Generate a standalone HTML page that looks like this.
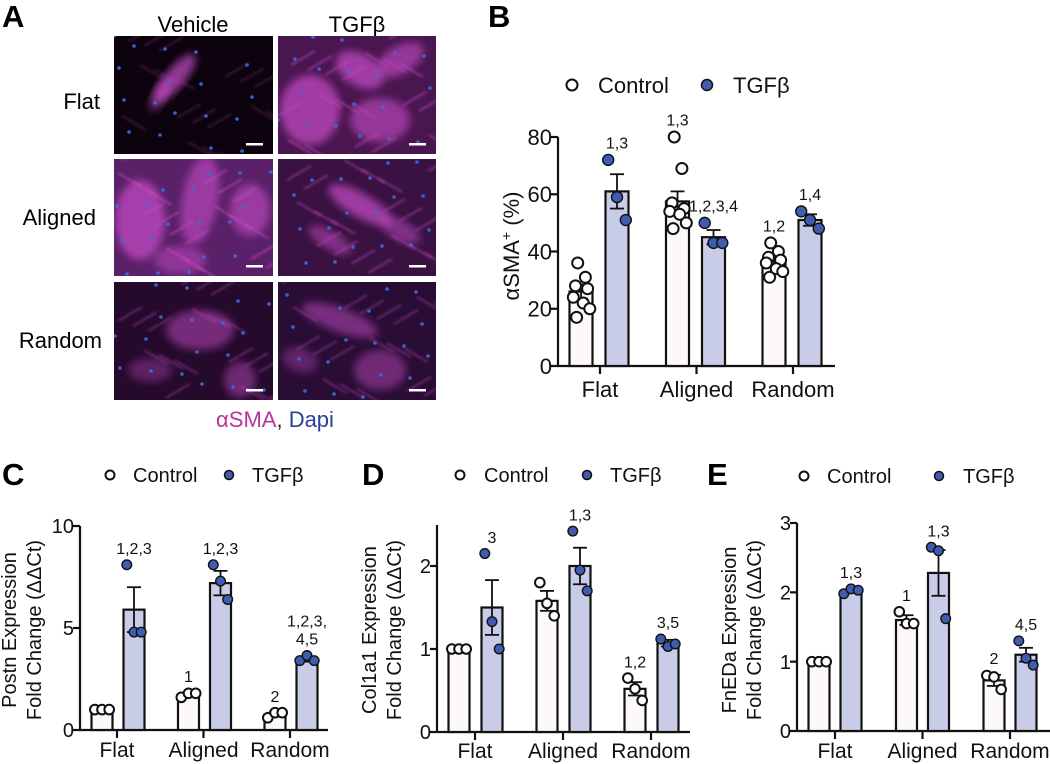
<!DOCTYPE html>
<html><head><meta charset="utf-8">
<style>
html,body{margin:0;padding:0;background:#fff;}
svg{display:block;font-family:"Liberation Sans",Arial,sans-serif;}
</style></head>
<body>
<svg id="fig" width="1050" height="764" viewBox="0 0 1050 764">
<defs>
<filter id="blur" x="-20%" y="-20%" width="140%" height="140%"><feGaussianBlur stdDeviation="4"/></filter>
<filter id="blur2"><feGaussianBlur stdDeviation="1.2"/></filter>
<clipPath id="c1"><rect x="114" y="36" width="159" height="118"/></clipPath>
<clipPath id="c2"><rect x="278" y="36" width="158" height="118"/></clipPath>
<clipPath id="c3"><rect x="114" y="159" width="159" height="117"/></clipPath>
<clipPath id="c4"><rect x="278" y="159" width="158" height="117"/></clipPath>
<clipPath id="c5"><rect x="114" y="282" width="159" height="118"/></clipPath>
<clipPath id="c6"><rect x="278" y="282" width="158" height="118"/></clipPath>
</defs>
<g>
<text x="2" y="27" font-size="31" font-weight="bold">A</text>
<text x="193" y="32" font-size="22" text-anchor="middle">Vehicle</text>
<text x="357" y="32" font-size="22" text-anchor="middle">TGFβ</text>
<text x="100" y="109" font-size="22" text-anchor="end">Flat</text>
<text x="96" y="225" font-size="22" text-anchor="end">Aligned</text>
<text x="102" y="348" font-size="22" text-anchor="end">Random</text>
<g id="micro"></g>
<text x="275" y="427" font-size="22" text-anchor="middle"><tspan fill="#b8359e">αSMA</tspan><tspan fill="#222">, </tspan><tspan fill="#2a3f9a">Dapi</tspan></text>
</g>
<g id="charts"></g>
</svg>
<script>
// ---------- Panel B data ----------
const catsB = ["Flat","Aligned","Random"];
const ctrlMeanB = [26, 57.5, 37];
const ctrlErrB = [2.5, 3.5, 1.5];
const ctrlPtsB = [[36,31,28,27,24,22,20,17],[80,69,57,55,54,53,50,48],[43,40,38,37,36,34,33,31]];
const tgfMeanB = [61, 45, 51];
const tgfErrB = [6, 2.5, 2];
const tgfPtsB = [[72,59,51],[50,43,43],[54,51,48]];
const ctrlAnnB = ["", "1,3", "1,2"];
const tgfAnnB = ["1,3", "1,2,3,4", "1,4"];
const ticksB = [0,20,40,60,80];
// ---------- Panel C data ----------
const catsC = ["Flat","Aligned","Random"];
const ctrlMeanC = [1, 1.75, 0.75];
const ctrlErrC = [0, 0.08, 0.1];
const ctrlPtsC = [[1,1,1],[1.6,1.8,1.8],[0.6,0.85,0.85]];
const tgfMeanC = [5.9, 7.2, 3.45];
const tgfErrC = [1.1, 0.6, 0.1];
const tgfPtsC = [[8.1,4.8,4.8],[8.1,7.3,6.4],[3.4,3.65,3.4]];
const ctrlAnnC = ["", "1", "2"];
const tgfAnnC = ["1,2,3", "1,2,3", "1,2,3,|4,5"];
const ticksC = [0,5,10];
// ---------- Panel D data ----------
const catsD = ["Flat","Aligned","Random"];
const ctrlMeanD = [1, 1.58, 0.52];
const ctrlErrD = [0, 0.12, 0.08];
const ctrlPtsD = [[1,1,1],[1.8,1.55,1.4],[0.65,0.52,0.38]];
const tgfMeanD = [1.5, 2.0, 1.07];
const tgfErrD = [0.33, 0.22, 0.04];
const tgfPtsD = [[2.15,1.33,1.0],[2.42,1.95,1.7],[1.12,1.03,1.06]];
const ctrlAnnD = ["", "", "1,2"];
const tgfAnnD = ["3", "1,3", "3,5"];
const ticksD = [0,1,2];
// ---------- Panel E data ----------
const catsE = ["Flat","Aligned","Random"];
const ctrlMeanE = [1, 1.6, 0.73];
const ctrlErrE = [0, 0.07, 0.08];
const ctrlPtsE = [[1,1,1],[1.72,1.55,1.55],[0.8,0.78,0.6]];
const tgfMeanE = [2.02, 2.28, 1.1];
const tgfErrE = [0.02, 0.33, 0.1];
const tgfPtsE = [[1.98,2.05,2.03],[2.65,2.6,1.62],[1.3,1.05,0.95]];
const ctrlAnnE = ["", "1", "2"];
const tgfAnnE = ["1,3", "1,3", "4,5"];
const ticksE = [0,1,2,3];

const NS = "http://www.w3.org/2000/svg";
function mk(tag, attrs, parent){
  const e = document.createElementNS(NS, tag);
  for (const k in attrs) e.setAttribute(k, attrs[k]);
  if (parent) parent.appendChild(e);
  return e;
}
const CTRL_FILL = "#fdf9f9", TGF_FILL = "#c9cce7", DOT = "#3f5cb0";

// micrographs
(function(){
  const g = document.getElementById('micro');
  const panels = [
    {x:114,y:36,w:159,h:118,base:"#0d030e",clip:"c1",blobs:[[175,78,30,10,-50,0.7],[160,95,18,7,-60,0.5]],s:0.35},
    {x:278,y:36,w:158,h:118,base:"#4a1650",clip:"c2",blobs:[[310,110,30,35,0,0.7],[360,70,26,16,30,0.7],[400,60,26,14,-30,0.6],[380,120,30,22,0,0.6]],s:0.8},
    {x:114,y:159,w:159,h:117,base:"#5a2068",clip:"c3",blobs:[[140,220,25,40,0,0.7],[200,200,18,45,10,0.6],[250,210,20,26,0,0.6],[180,260,26,14,0,0.5]],s:0.9},
    {x:278,y:159,w:158,h:117,base:"#3a1242",clip:"c4",blobs:[[360,205,36,12,30,0.7],[330,240,24,9,30,0.5],[400,230,22,10,30,0.5]],s:0.7},
    {x:114,y:282,w:159,h:118,base:"#250a2c",clip:"c5",blobs:[[200,330,34,20,0,0.5],[150,370,22,12,0,0.35],[240,380,16,18,0,0.45]],s:0.6},
    {x:278,y:282,w:158,h:118,base:"#2a0d35",clip:"c6",blobs:[[340,320,40,12,20,0.5],[380,370,26,20,0,0.45],[300,360,18,12,20,0.35]],s:0.6}
  ];
  panels.forEach((p,i)=>{
    const pg = mk('g',{'clip-path':'url(#'+p.clip+')'},g);
    
    
    mk('rect',{x:p.x,y:p.y,width:p.w,height:p.h,fill:p.base},pg);
    p.blobs.forEach(b=>{
      mk('ellipse',{cx:b[0],cy:b[1],rx:b[2],ry:b[3],fill:"#c74ec8",opacity:b[5],filter:"url(#blur)",transform:`rotate(${b[4]} ${b[0]} ${b[1]})`},pg);
    });
    for(let k=0;k<28;k++){
      const x1=p.x+((k*37+i*13)%p.w), y1=p.y+((k*53+i*29)%p.h);
      mk('line',{x1:x1,y1:y1,x2:x1+24,y2:y1+((k%3)-1)*14,stroke:"#c048c0",'stroke-width':1.4,opacity:p.s,filter:"url(#blur2)"},pg);
    }
    for(let k=0;k<18;k++){
      mk('circle',{cx:p.x+((k*41+i*17)%p.w),cy:p.y+((k*67+i*23)%p.h),r:1.8,fill:"#3a6ee0",opacity:0.9},pg);
    }
    mk('rect',{x:p.x+p.w-27,y:p.y+p.h-11,width:17,height:2.5,fill:"#fff"},pg);
  });
})();

function panel(o){
  const root = document.getElementById('charts');
  const g = mk('g',{},root);
  
  
  const y = v => o.y0 - (v - 0) * (o.y0 - o.yTop) / o.vTop;
  const L = mk('text',{x:o.letterX,y:o.letterY,'font-size':31,'font-weight':'bold'},g);
  L.textContent = o.id.toUpperCase();
  
  
  const lg = mk('g',{},g);
  
  
  const e1 = mk('g',{},lg);
  
  
  mk('circle',{cx:o.leg[0],cy:o.legY,r:o.legR,fill:"#fff",stroke:"#111",'stroke-width':2},e1);
  const t1 = mk('text',{x:o.leg[1],y:o.legY+o.legFs*0.36,'font-size':o.legFs,fill:'#111'},e1); t1.textContent="Control";
  const e2 = mk('g',{},lg);
  
  
  mk('circle',{cx:o.leg[2],cy:o.legY,r:o.legR,fill:DOT,stroke:"#111",'stroke-width':1.5},e2);
  const t2 = mk('text',{x:o.leg[3],y:o.legY+o.legFs*0.36,'font-size':o.legFs,fill:'#111'},e2); t2.textContent="TGFβ";
  const ya = mk('g',{},g);
  
  
  mk('line',{x1:o.ax,y1:o.yTop-(o.extraTop||0),x2:o.ax,y2:o.y0+1,stroke:'#111','stroke-width':2.2},ya);
  o.ticks.forEach(t=>{
    mk('line',{x1:o.ax-7,y1:y(t),x2:o.ax,y2:y(t),stroke:'#111','stroke-width':2.2},ya);
    const tt = mk('text',{x:o.ax-6,y:y(t)+o.tickFs*0.36,'font-size':o.tickFs,'text-anchor':'end',fill:'#111'},ya);
    tt.textContent = t;
    
    
  });
  const yt = mk('text',{transform:`translate(${o.ytX},${o.ytY}) rotate(-90)`,'font-size':o.ytFs,'text-anchor':'middle',fill:'#111'},g);
  
  
  o.ytLines.forEach((ln,i)=>{
    const ts = mk('tspan',{x:0,dy: i===0 ? 0 : o.ytDy},yt);
    ts.innerHTML = ln;
  });
  const xa = mk('g',{},g);
  
  
  mk('line',{x1:o.ax-1,y1:o.y0,x2:o.axEnd,y2:o.y0,stroke:'#111','stroke-width':2.2},xa);
  const xc = i => o.x0 + i*o.step;
  o.cats.forEach((c,i)=>{
    mk('line',{x1:xc(i),y1:o.y0,x2:xc(i),y2:o.y0+8,stroke:'#111','stroke-width':2.2},xa);
    const ct = mk('text',{x:xc(i),y:o.y0+o.catOff,'font-size':o.catFs,'text-anchor':'middle',fill:'#111'},xa);
    ct.textContent = c;
    
    
  });
  const series = [
    {name:'control',mean:o.cm,err:o.ce,pts:o.cp,ann:o.ca,fill:CTRL_FILL,dot:'#fff',off:-o.off},
    {name:'tgfb',mean:o.tm,err:o.te,pts:o.tp,ann:o.ta,fill:TGF_FILL,dot:DOT,off:o.off2}
  ];
  series.forEach(s=>{
    o.cats.forEach((c,i)=>{
      const cx = xc(i)+s.off;
      const bg = mk('g',{},g);
      
      
      mk('rect',{x:cx-o.bw/2,y:y(s.mean[i]),width:o.bw,height:o.y0-y(s.mean[i]),fill:s.fill,stroke:'#111','stroke-width':2.2},bg);
      const eT = y(s.mean[i]+s.err[i]), eB = y(s.mean[i]-s.err[i]);
      mk('line',{x1:cx,y1:eT,x2:cx,y2:eB,stroke:'#111','stroke-width':1.8},bg);
      mk('line',{x1:cx-7,y1:eT,x2:cx+7,y2:eT,stroke:'#111','stroke-width':1.8},bg);
      mk('line',{x1:cx-7,y1:eB,x2:cx+7,y2:eB,stroke:'#111','stroke-width':1.8},bg);
      const n = s.pts[i].length;
      const pat = n===3 ? [-0.8,0,0.8] : [-0.3,0.4,-0.5,0.6,-0.7,0.2,0.8,-0.4];
      let maxTop = eT;
      s.pts[i].forEach((v,k)=>{
        const pc = mk('circle',{cx:cx+pat[k%pat.length]*o.jit,cy:y(v),r:o.pr,fill:s.dot,stroke:'#111','stroke-width':s.name==='control'?2:1.4},bg);
        
        
        maxTop = Math.min(maxTop,y(v));
      });
      if (s.ann[i]) {
        const parts = s.ann[i].split('|');
        parts.forEach((p,j)=>{
          const at = mk('text',{x:cx,y:maxTop-o.pr-6-(parts.length-1-j)*18,'font-size':o.annFs,'text-anchor':'middle',fill:'#111'},bg);
          at.textContent = p;
          
          
        });
      }
    });
  });
}

panel({id:'b',letterX:488,letterY:27,leg:[572,598,707,733],legY:85,legR:5.5,legFs:22,
  ax:558,y0:366,yTop:137,vTop:80,ticks:ticksB,tickFs:22,axEnd:835,
  ytX:519,ytY:246,ytFs:22,ytDy:0,ytLines:["αSMA<tspan baseline-shift='super' font-size='14'>+</tspan> (%)"],
  cats:catsB,x0:600,step:96.5,catFs:22,catOff:31,bw:23,off:19,off2:17,jit:11,pr:5.5,annFs:16,
  cm:ctrlMeanB,ce:ctrlErrB,cp:ctrlPtsB,ca:ctrlAnnB,tm:tgfMeanB,te:tgfErrB,tp:tgfPtsB,ta:tgfAnnB});
panel({id:'c',letterX:2,letterY:485,leg:[110,133,229,252],legY:475,legR:4.5,legFs:20,
  ax:80,y0:730,yTop:526,vTop:10,ticks:ticksC,tickFs:20,axEnd:328,
  ytX:16,ytY:630,ytFs:20,ytDy:25,ytLines:["Postn Expression","Fold Change (ΔΔCt)"],
  cats:catsC,x0:117,step:86.5,catFs:21,catOff:27,bw:21,off:15,off2:17,jit:9,pr:4.8,annFs:16,
  cm:ctrlMeanC,ce:ctrlErrC,cp:ctrlPtsC,ca:ctrlAnnC,tm:tgfMeanC,te:tgfErrC,tp:tgfPtsC,ta:tgfAnnC});
panel({id:'d',letterX:362,letterY:485,leg:[460,484,587,610],legY:475,legR:4.5,legFs:20,
  ax:437,y0:732,yTop:566,vTop:2,extraTop:41,ticks:ticksD,tickFs:20,axEnd:690,
  ytX:376,ytY:630,ytFs:20,ytDy:25,ytLines:["Col1a1 Expression","Fold Change (ΔΔCt)"],
  cats:catsD,x0:475,step:88,catFs:21,catOff:26,bw:21,off:16,off2:17,jit:9,pr:4.8,annFs:16,
  cm:ctrlMeanD,ce:ctrlErrD,cp:ctrlPtsD,ca:ctrlAnnD,tm:tgfMeanD,te:tgfErrD,tp:tgfPtsD,ta:tgfAnnD});
panel({id:'e',letterX:707,letterY:485,leg:[804,827,939,963],legY:476,legR:4.5,legFs:20,
  ax:797,y0:731,yTop:523,vTop:3,ticks:ticksE,tickFs:20,axEnd:1050,
  ytX:736,ytY:630,ytFs:20,ytDy:25,ytLines:["FnEDa Expression","Fold Change (ΔΔCt)"],
  cats:catsE,x0:835,step:87.5,catFs:21,catOff:27,bw:21,off:16,off2:16,jit:9,pr:4.8,annFs:16,
  cm:ctrlMeanE,ce:ctrlErrE,cp:ctrlPtsE,ca:ctrlAnnE,tm:tgfMeanE,te:tgfErrE,tp:tgfPtsE,ta:tgfAnnE});
</script>
</body></html>
